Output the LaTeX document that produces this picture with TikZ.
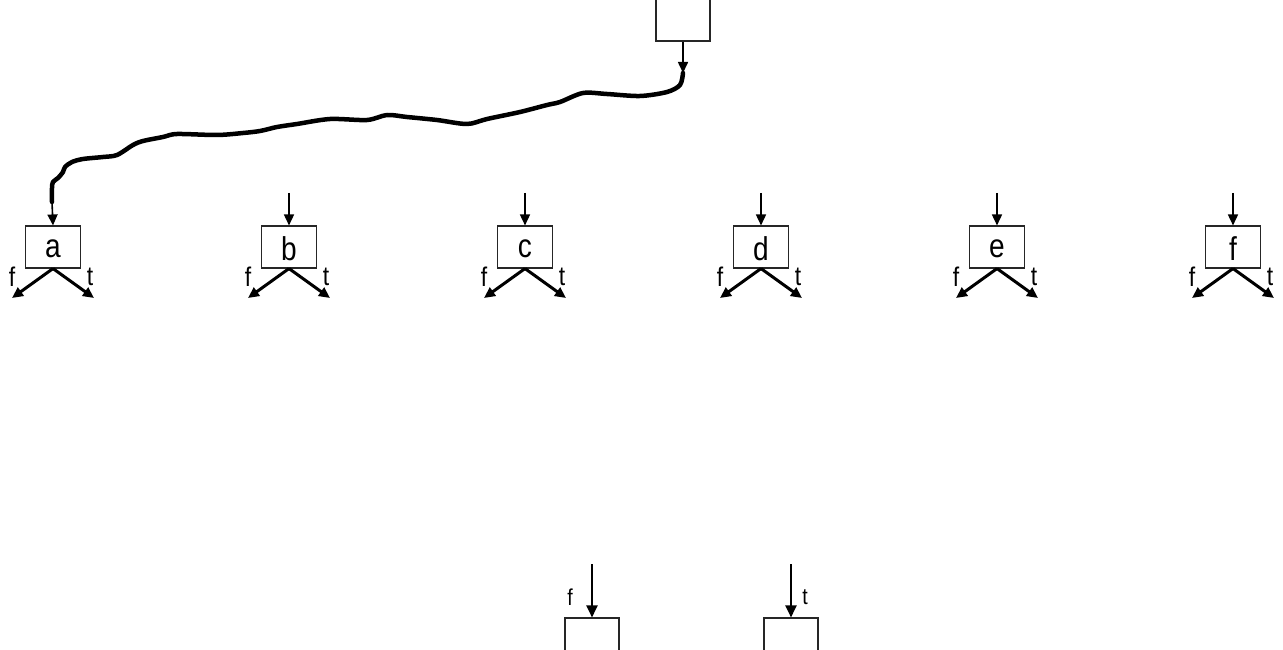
\documentclass[tikz,border=0pt]{standalone}
\usepackage{fontspec}
\newfontfamily\lab[FakeStretch=0.85]{Liberation Sans}
\usetikzlibrary{arrows.meta}
\tikzset{
  box/.style={draw=black!85, line width=1.1pt, minimum width=55pt, minimum height=42pt, inner sep=0pt},
  boxtext/.style={font=\lab\fontsize{33}{35}\selectfont, inner sep=0pt},
  openbox/.style={draw=black!85, line width=1.1pt, minimum width=54pt, inner sep=0pt},
  inarrow/.style={line width=1.6pt, -{Triangle[length=11pt,width=10pt]}},
  branch/.style={line width=3pt, -{Triangle[length=11pt,width=10pt]}},
  botarrow/.style={line width=2.2pt, -{Triangle[length=12pt,width=11pt]}},
  brlabel/.style={font=\lab\fontsize{27}{29}\selectfont, inner sep=0pt},
  botlabel/.style={font=\lab\fontsize{23}{25}\selectfont, inner sep=0pt},
  wire/.style={line width=4.5pt, line join=round, line cap=round}
}
\begin{document}
\begin{tikzpicture}[x=1pt,y=-1pt]
\useasboundingbox[clip] (0,0) rectangle (1283,650);
% top box
\node[openbox, minimum height=61pt] (top) at (683,10.5) {};
\coordinate (tip) at (683,73);
\draw[inarrow] (top.south) -- (tip);
% decision boxes
\foreach \n/\x in {a/53,b/289,c/525,d/761,e/997,f/1233}{
  \node[box] (\n) at (\x,247) {};
  \node[boxtext] (\n txt) at (\x,249) {\n};
  \node[brlabel] (\n F) at (\x-41,277) {f};
  \node[brlabel] (\n T) at (\x+37,277) {t};
  \coordinate (\n l) at (\x-41,298);
  \coordinate (\n r) at (\x+41,298);
  \draw[branch] (\n.south) -- (\n l);
  \draw[branch] (\n.south) -- (\n r);
}
\foreach \n/\x in {b/289,c/525,d/761,e/997,f/1233}{
  \coordinate (\n in) at (\x,193);
  \draw[inarrow] (\n in) -- (\n.north);
}
% wavy wire
\coordinate (wend) at (52,202);
\draw[wire] plot[smooth, tension=0.5] coordinates {(tip) (680,85) (667,92) (640,96) (607,94) (583,93) (560,102) (547,105) (520,112) (487,119) (467,124) (437,120) (407,117) (387,115) (367,120) (330,119) (297,124) (277,127) (260,131) (243,133) (217,135) (177,134) (163,137) (143,141) (133,145) (117,155) (103,157) (83,159) (72,162) (65,167) (63,172) (58,178) (53,182) (52,188) (wend)};
\draw[inarrow] (wend) -- (a.north);
% bottom boxes
\node[openbox, minimum height=60pt] (bf) at (592,648) {};
\node[openbox, minimum height=60pt] (bt) at (791,648) {};
\coordinate (bfin) at (592,564);
\coordinate (btin) at (791,564);
\draw[botarrow] (bfin) -- (bf.north);
\draw[botarrow] (btin) -- (bt.north);
\node[botlabel] (lf) at (570,597) {f};
\node[botlabel] (lt) at (805,597) {t};
\end{tikzpicture}
\end{document}
